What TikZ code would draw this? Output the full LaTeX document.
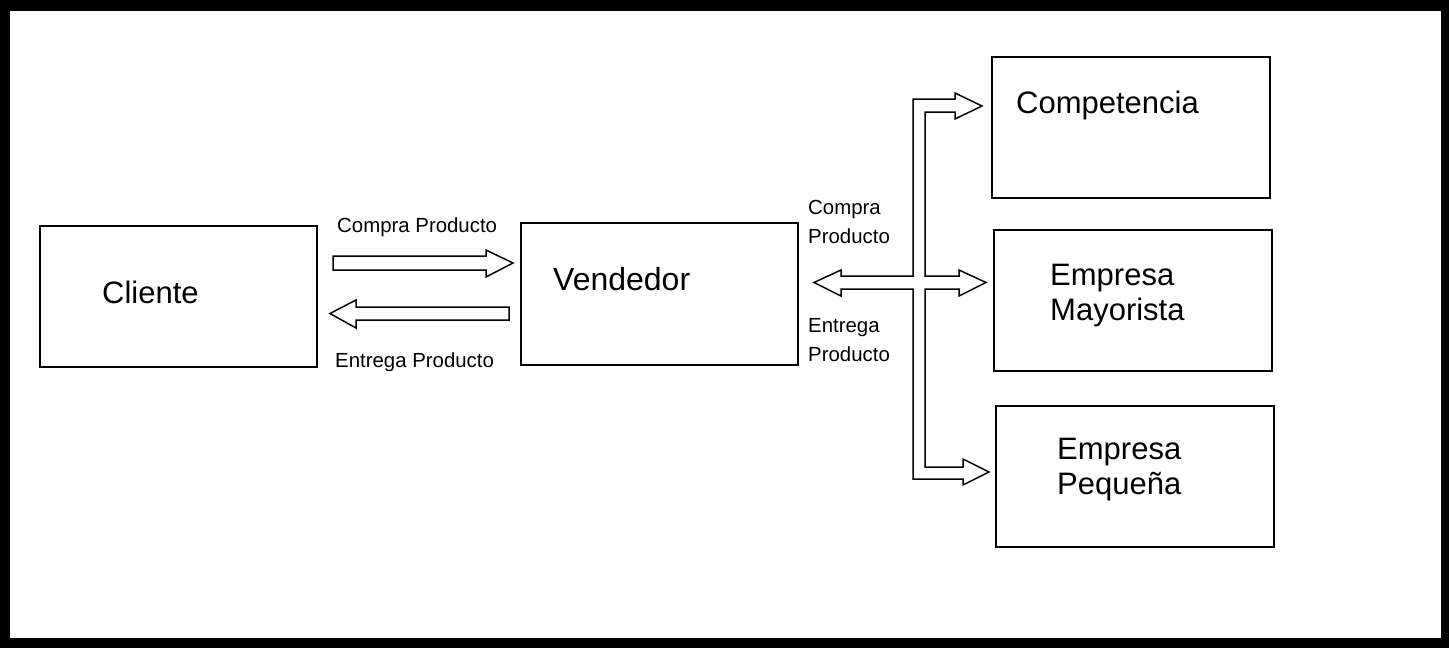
\documentclass[tikz,border=0pt]{standalone}
\usepackage{fontspec}
\setmainfont{Liberation Sans}
\begin{document}
\begin{tikzpicture}[x=1pt,y=-1pt,
  box/.style={draw=black,line width=1.6pt,fill=white},
  bigtxt/.style={inner sep=0pt,anchor=base west,font=\fontsize{31}{35}\selectfont},
  smalltxt/.style={inner sep=0pt,anchor=base west,font=\fontsize{20.4}{24}\selectfont},
  blockarrow/.style={draw=black,line width=1.5pt,fill=white,line join=miter}]
% black frame
\fill[black] (0,0) rectangle (1449,648);
\fill[white] (10,11) rectangle (1441,638);
\useasboundingbox (0,0) rectangle (1449,648);

% boxes
\draw[box] (40,226) rectangle (317,367);
\draw[box] (521,223) rectangle (798,365);
\draw[box] (992,57) rectangle (1270,198);
\draw[box] (994,230) rectangle (1272,371);
\draw[box] (996,406) rectangle (1274,547);

% box captions
\node[bigtxt] (cliente) at (102,303) {Cliente};
\node[bigtxt,font=\fontsize{32}{36}\selectfont] (vendedor) at (553,290) {Vendedor};
\node[bigtxt] (competencia) at (1016,113) {Competencia};
\node[bigtxt] (mayA) at (1050,285) {Empresa};
\node[bigtxt] (mayB) at (1050,320) {Mayorista};
\node[bigtxt] (peqA) at (1057,459) {Empresa};
\node[bigtxt] (peqB) at (1057,494) {Pequeña};

% block arrows between Cliente and Vendedor
\draw[blockarrow] (333,256) -- (486,256) -- (486,250) -- (513,263) -- (486,277) -- (486,270) -- (333,270) -- cycle;
\draw[blockarrow] (509,307) -- (356,307) -- (356,300) -- (330,313.5) -- (356,328) -- (356,320) -- (509,320) -- cycle;
\node[smalltxt] (compraL) at (337,232) {Compra Producto};
\node[smalltxt] (entregaL) at (335,367) {Entrega Producto};

% branching block arrow from Vendedor to the three companies
\draw[blockarrow] (814,282.5) -- (841,270) -- (841,276) -- (913,276) -- (913,99)
  -- (955,99) -- (955,93) -- (982,106) -- (955,119) -- (955,112) -- (925,112)
  -- (925,276) -- (959,276) -- (959,270) -- (986,282.5) -- (959,296) -- (959,289)
  -- (925,289) -- (925,467) -- (963,467) -- (963,459) -- (989,472) -- (963,485)
  -- (963,479) -- (913,479) -- (913,289) -- (841,289) -- (841,296) -- cycle;
\node[smalltxt] (compraR1) at (808,214) {Compra};
\node[smalltxt] (compraR2) at (808,243) {Producto};
\node[smalltxt] (entregaR1) at (808,332) {Entrega};
\node[smalltxt] (entregaR2) at (808,361) {Producto};
\end{tikzpicture}
\end{document}
